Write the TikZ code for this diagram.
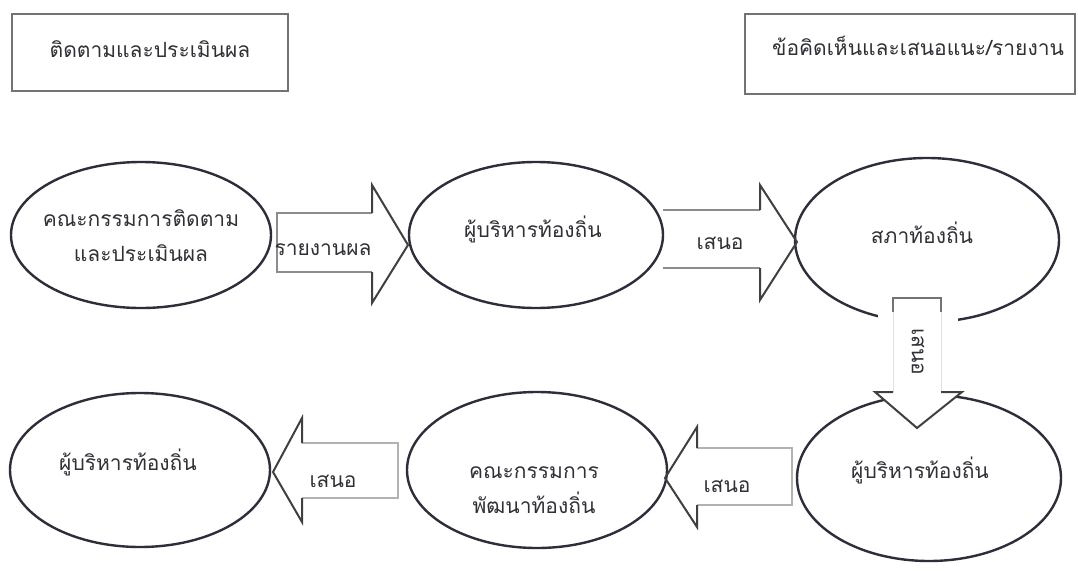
\documentclass[tikz,border=0pt]{standalone}
\usepackage{fontspec}
\newfontfamily\thaifont[Script=Thai]{Loma}
\usetikzlibrary{shapes.geometric}
\definecolor{ink}{HTML}{2E2E3A}
\definecolor{txt}{HTML}{303036}
\begin{document}
\begin{tikzpicture}[x=1pt,y=-1pt,
  oval/.style={draw=ink, line width=2.4pt, ellipse, inner sep=0pt},
  lbl/.style={text=txt, font=\thaifont\fontsize{21}{35}\selectfont, align=center, inner sep=0pt},
  hbox/.style={draw=black!55, line width=1.4pt},
  body/.style={draw=black!45, line width=1.3pt, line join=miter},
  head/.style={draw=black!75, line width=2pt, line join=miter},
]
\useasboundingbox (0,0) rectangle (1078,570);
\fill[white] (0,0) rectangle (1078,570);

% header boxes
\draw[hbox] (12,14) rectangle (288,91) coordinate (bL);
\node[lbl] (tL) at (150,49) {ติดตามและประเมินผล};
\draw[hbox] (745,14) rectangle (1075,94) coordinate (bR);
\node[lbl] (tR) at (918,46) {ข้อคิดเห็นและเสนอแนะ/รายงาน};

% ellipses
\node[oval, minimum width=260pt, minimum height=146pt] (e1) at (141,235) {};
\node[lbl] (t1) at (141,236) {คณะกรรมการติดตาม\\และประเมินผล};
\node[oval, minimum width=254pt, minimum height=146pt] (e2) at (536,235) {};
\node[lbl] (t2) at (533,229) {ผู้บริหารท้องถิ่น};
\node[oval, minimum width=264pt, minimum height=164pt] (e3) at (927,240) {};
\node[lbl] (t3) at (922,233) {สภาท้องถิ่น};
\node[oval, minimum width=264pt, minimum height=166pt] (e4) at (929,478) {};
\node[lbl] (t4) at (920,470) {ผู้บริหารท้องถิ่น};
\node[oval, minimum width=260pt, minimum height=156pt] (e5) at (537,470) {};
\node[lbl] (t5) at (534,490) {คณะกรรมการ\\พัฒนาท้องถิ่น};
\node[oval, minimum width=260pt, minimum height=154pt] (e6) at (140,470) {};
\node[lbl] (t6) at (128,462) {ผู้บริหารท้องถิ่น};

% arrow 1 (right)
\coordinate (a1) at (277,243);
\draw[body] (372,213) -- (277,213) -- (277,272) -- (372,272);
\draw[head] (372,272) -- (372,303) -- (408,245) -- (372,185) -- (372,213);
\node[lbl] (l1) at (323,250) {รายงานผล};

% arrow 2 (right)
\coordinate (a2) at (663,240);
\draw[body] (760,210) -- (663,210);
\draw[body] (663,268) -- (760,268);
\draw[head] (760,268) -- (760,300) -- (797,242) -- (760,185) -- (760,210);
\node[lbl] (l2) at (720,243) {เสนอ};

% down arrow (from e3 to e4)
\fill[white] (878,300) rectangle (958,332);
\coordinate (a5) at (917,300);
\fill[white] (893,298) -- (941,298) -- (941,392) -- (962,392) -- (917,428) -- (875,392) -- (893,392) -- cycle;
\draw[black!55, line width=1.3pt] (893,312) -- (893,298) -- (941,298) -- (941,312);
\draw[black!12, line width=1pt] (893,312) -- (893,392) (941,312) -- (941,392);
\draw[head] (893,392) -- (875,392) -- (917,428) -- (962,392) -- (941,392);
\node[lbl, rotate=-90] (l5) at (918,352) {เสนอ};

% arrow 3 (left, e4 -> e5)
\coordinate (a3) at (792,477);
\draw[black!30, line width=1.2pt] (697,448) -- (792,448) -- (792,505) -- (697,505);
\draw[head] (697,448) -- (697,427) -- (665,478) -- (697,527) -- (697,505);
\node[lbl] (l3) at (727,486) {เสนอ};

% arrow 4 (left, e5 -> e6)
\coordinate (a4) at (398,470);
\draw[black!30, line width=1.2pt] (302,443) -- (398,443) -- (398,498) -- (302,498);
\draw[head] (302,443) -- (302,418) -- (273,472) -- (302,522) -- (302,498);
\node[lbl] (l4) at (333,481) {เสนอ};
\end{tikzpicture}
\end{document}
